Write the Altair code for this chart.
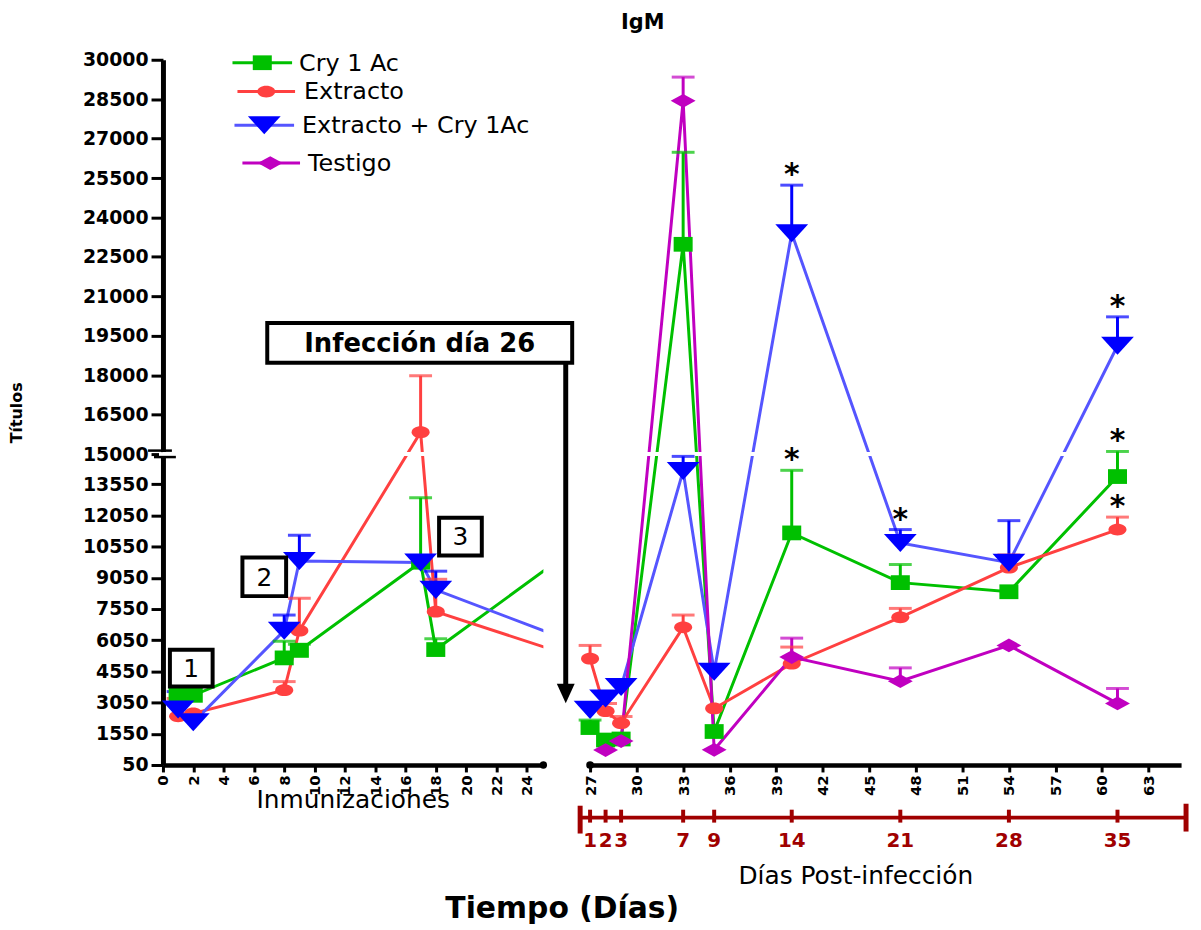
import altair as alt
import pandas as pd

FONT = "DejaVu Sans"

# ------------------------------------------------------------------ data
SERIES = ["Cry 1 Ac", "Extracto", "Extracto + Cry 1Ac", "Testigo"]

DAYS_LEFT = [1, 2, 8, 9, 17, 18]
DAY_LEFT_NEXT = 26            # next sample, clipped by the broken x axis
DAYS_RIGHT = [27, 28, 29, 33, 35, 40, 47, 54, 61]
DAYS_TESTIGO = [28, 29, 33, 35, 40, 47, 54, 61]

CRY_LEFT = [3400, 3400, 5200, 5560, 9800, 5600]
CRY_LEFT_SEM = [0, 0, 800, 300, 3100, 520]
CRY_LEFT_NEXT = 9850
CRY_RIGHT = [1850, 1250, 1300, 22980, 1660, 11210, 8820, 8380, 13920]
CRY_RIGHT_SEM = [360, 0, 0, 3500, 0, 3010, 870, 0, 1180]

EXT_LEFT = [2390, 2530, 3650, 6510, 15830, 7420]
EXT_LEFT_SEM = [860, 0, 410, 1560, 2150, 1560]
EXT_LEFT_NEXT = 5520
EXT_RIGHT = [5160, 2640, 2060, 6670, 2770, 4920, 7150, 9540, 11370]
EXT_RIGHT_SEM = [640, 370, 320, 590, 0, 800, 430, 610, 600]

MIX_LEFT = [2720, 2100, 6510, 9860, 9790, 8470]
MIX_LEFT_SEM = [860, 0, 750, 1240, 0, 900]
MIX_LEFT_NEXT = 6260
MIX_RIGHT = [2700, 3250, 3800, 14190, 4530, 23400, 10730, 9780, 19120]
MIX_RIGHT_SEM = [0, 0, 0, 700, 0, 1830, 640, 2020, 1100]

TES_RIGHT = [770, 1200, 28440, 780, 5240, 4080, 5800, 3010]
TES_RIGHT_SEM = [0, 0, 900, 0, 910, 640, 0, 720]

STARS = [("Extracto + Cry 1Ac", 40), ("Cry 1 Ac", 40), ("Extracto + Cry 1Ac", 47),
         ("Extracto + Cry 1Ac", 61), ("Cry 1 Ac", 61), ("Extracto", 61)]

INFECTION_DAY = 26
POST_INF_DAYS = [1, 2, 3, 7, 9, 14, 21, 28, 35]

Y_TICKS = [50, 1550, 3050, 4550, 6050, 7550, 9050, 10550, 12050, 13550, 15000,
           16500, 18000, 19500, 21000, 22500, 24000, 25500, 27000, 28500, 30000]
X_TICKS_LEFT = [0, 2, 4, 6, 8, 10, 12, 14, 16, 18, 20, 22, 24]
X_TICKS_RIGHT = [27, 30, 33, 36, 39, 42, 45, 48, 51, 54, 57, 60, 63]

TEXT_TITLE = "IgM"
TEXT_YTITLE = "Títulos"
TEXT_XLEFT = "Inmunizaciones"
TEXT_XRIGHT = "Días Post-infección"
TEXT_XMAIN = "Tiempo (Días)"
TEXT_INFECTION = "Infección día 26"
BOX_LABELS = ["1", "2", "3"]

# ------------------------------------------------------------------ styles
MARK_COLORS = ["#00c000", "#ff4040", "#0000ff", "#c000c0"]
LINE_COLORS = ["#00c000", "#ff4040", "#5555ff", "#c000c0"]
CAP_W = [23, 23, 34, 27]
SHAPES = [
    "M-0.58,-0.45H0.58V0.45H-0.58Z",
    "M-0.55,0A0.55,0.36,0,1,1,0.55,0A0.55,0.36,0,1,1,-0.55,0Z",
    "M-1,-0.55H1L0,0.55Z",
    "M-0.76,0L0,-0.42L0.76,0L0,0.42Z",
]
MARK_SIZE = 1089
DARKRED = "#a00000"

LEFT_W, RIGHT_W, GAP = 383, 595, 47
LOW_PX, HIGH_PX = 313, 397
H = LOW_PX + HIGH_PX
LEFT_DOMAIN = [0, 25.1]
RIGHT_DOMAIN = [27, 65.1]

# ------------------------------------------------------------------ table
rows = []


def add(series, days, values, sems, panel, marker=True):
    for d, v, s in zip(days, values, sems):
        rows.append({"series": series, "day": d, "value": v, "sem": s,
                     "panel": panel, "marker": marker})


add(SERIES[0], DAYS_LEFT, CRY_LEFT, CRY_LEFT_SEM, "left")
add(SERIES[0], [DAY_LEFT_NEXT], [CRY_LEFT_NEXT], [0], "left", False)
add(SERIES[0], DAYS_RIGHT, CRY_RIGHT, CRY_RIGHT_SEM, "right")
add(SERIES[1], DAYS_LEFT, EXT_LEFT, EXT_LEFT_SEM, "left")
add(SERIES[1], [DAY_LEFT_NEXT], [EXT_LEFT_NEXT], [0], "left", False)
add(SERIES[1], DAYS_RIGHT, EXT_RIGHT, EXT_RIGHT_SEM, "right")
add(SERIES[2], DAYS_LEFT, MIX_LEFT, MIX_LEFT_SEM, "left")
add(SERIES[2], [DAY_LEFT_NEXT], [MIX_LEFT_NEXT], [0], "left", False)
add(SERIES[2], DAYS_RIGHT, MIX_RIGHT, MIX_RIGHT_SEM, "right")
add(SERIES[3], DAYS_TESTIGO, TES_RIGHT, TES_RIGHT_SEM, "right")

df = pd.DataFrame(rows)
star_set = set(STARS)
df["star"] = [(s, d) in star_set for s, d in zip(df["series"], df["day"])]


def t_expr(f):
    return (f"datum.{f} <= 15000 ? (datum.{f} - 50) / 14950 * {LOW_PX} : "
            f"{LOW_PX} + (datum.{f} - 15000) / 15000 * {HIGH_PX}")


def t_py(v):
    return (v - 50) / 14950 * LOW_PX if v <= 15000 else LOW_PX + (v - 15000) / 15000 * HIGH_PX


INV = (f"datum.value <= {LOW_PX + 0.001} ? format(50 + datum.value / {LOW_PX} * 14950, '.0f') : "
       f"format(15000 + (datum.value - {LOW_PX}) / {HIGH_PX} * 15000, '.0f')")

Y_SCALE = alt.Scale(domain=[0, H], nice=False, zero=False)

Y_AXIS_LEFT = alt.Axis(
    values=[t_py(v) for v in Y_TICKS], labelExpr=INV, grid=False,
    labelFont=FONT, labelFontSize=19, labelFontWeight="bold", labelColor="black",
    labelPadding=3, labelOverlap=False, labelFlush=False,
    tickSize=12, tickWidth=3, tickColor="black",
    domainColor="black", domainWidth=5,
    title=TEXT_YTITLE, titleFont=FONT, titleFontSize=16, titleFontWeight="bold",
    titleColor="black", titleX=-147, titleY=H / 2, titleAlign="center",
    titleBaseline="middle", titleAngle=270,
)


def x_axis(values, title, title_x, title_y):
    return alt.Axis(
        values=values, labelAngle=270, grid=False, format="d",
        labelFont=FONT, labelFontSize=15, labelFontWeight="bold", labelColor="black",
        labelPadding=3, labelOverlap=False, labelFlush=False,
        tickSize=7, tickWidth=3, tickColor="black",
        domainColor="black", domainWidth=4.5,
        title=title, titleFont=FONT, titleFontSize=25, titleFontWeight="normal",
        titleColor="black", titleX=title_x, titleY=title_y,
        titleBaseline="alphabetic", titleAlign="center",
    )


X_AXIS = {
    "left": x_axis(X_TICKS_LEFT, TEXT_XLEFT, 191, 43),
    "right": x_axis(X_TICKS_RIGHT, TEXT_XRIGHT, 267, 119),
}
X_DOM = {"left": LEFT_DOMAIN, "right": RIGHT_DOMAIN}
WIDTH = {"left": LEFT_W, "right": RIGHT_W}

MARK_COLOR_SCALE = alt.Scale(domain=SERIES, range=MARK_COLORS)


def X(panel):
    return alt.X("day:Q", scale=alt.Scale(domain=X_DOM[panel], nice=False, zero=False),
                 axis=X_AXIS[panel])


def Y(panel, field="t"):
    return alt.Y(f"{field}:Q", scale=Y_SCALE,
                 axis=Y_AXIS_LEFT if panel == "left" else None)


def one(**kw):
    return pd.DataFrame({k: [v] for k, v in kw.items()})


def panel_layers(panel):
    b = (alt.Chart(df)
         .transform_filter(alt.datum.panel == panel)
         .transform_calculate(top="datum.value + datum.sem")
         .transform_calculate(t=t_expr("value"), tt=t_expr("top")))
    lines = b.mark_line(strokeWidth=3, clip=True).encode(
        x=X(panel), y=Y(panel),
        stroke=alt.Stroke("series:N", scale=alt.Scale(domain=SERIES, range=LINE_COLORS),
                          legend=None),
    )
    band = (alt.Chart(one(value=15000))
            .transform_calculate(t=t_expr("value"))
            .mark_rule(color="white", strokeWidth=4)
            .encode(y=Y(panel), x=alt.value(0), x2=alt.value(WIDTH[panel])))
    errs = b.transform_filter("datum.sem > 0")
    err_rule = errs.mark_rule(strokeWidth=3).encode(
        x=X(panel), y=Y(panel), y2="tt:Q",
        color=alt.Color("series:N", scale=MARK_COLOR_SCALE, legend=None))
    err_cap = errs.mark_tick(thickness=3, orient="horizontal").encode(
        x=X(panel), y=Y(panel, "tt"),
        color=alt.Color("series:N", scale=MARK_COLOR_SCALE, legend=None),
        size=alt.Size("series:N", scale=alt.Scale(domain=SERIES, range=CAP_W), legend=None))
    points = b.transform_filter("datum.marker").mark_point(
        filled=True, opacity=1, strokeWidth=0).encode(
        x=X(panel), y=Y(panel),
        fill=alt.Fill("series:N", scale=MARK_COLOR_SCALE, legend=None),
        shape=alt.Shape("series:N", scale=alt.Scale(domain=SERIES, range=SHAPES), legend=None),
        size=alt.value(MARK_SIZE))
    stars = b.transform_filter("datum.star").mark_text(
        text="*", font=FONT, fontSize=30, fontWeight="bold", dy=-10, color="black"
    ).encode(x=X(panel), y=Y(panel, "tt"))
    return [lines, band, err_rule, err_cap, points, stars]


# ------------------------------------------------------------------ left panel
left_layers = panel_layers("left")

# numbered boxes (immunizations)
BOX_POS = [(7, 50, 594, 631), (80, 124, 501, 540), (278, 321, 461, 499)]
for lab, (x0, x1, y0, y1) in zip(BOX_LABELS, BOX_POS):
    d1 = one(label=lab)
    left_layers.append(alt.Chart(d1).mark_rect(fill="white", stroke="black", strokeWidth=4)
                       .encode(x=alt.value(x0), x2=alt.value(x1), y=alt.value(y0), y2=alt.value(y1)))
    left_layers.append(alt.Chart(d1).mark_text(font=FONT, fontSize=25, color="black",
                                               align="center", baseline="middle")
                       .encode(x=alt.value((x0 + x1) / 2), y=alt.value((y0 + y1) / 2 + 1),
                               text="label:N"))

# infection annotation with arrow
d_inf = one(label=TEXT_INFECTION)
left_layers += [
    alt.Chart(d_inf).mark_rule(color="black", strokeWidth=5)
    .encode(x=alt.value(405.5), y=alt.value(305), y2=alt.value(630)),
    alt.Chart(d_inf).mark_point(shape="M-1,-1.1H1L0,1.1Z", filled=True, color="black",
                                opacity=1, size=324, strokeWidth=0)
    .encode(x=alt.value(405.5), y=alt.value(638)),
    alt.Chart(d_inf).mark_rect(fill="white", stroke="black", strokeWidth=4)
    .encode(x=alt.value(105), x2=alt.value(412), y=alt.value(265), y2=alt.value(305)),
    alt.Chart(d_inf).mark_text(font=FONT, fontSize=26, fontWeight="bold", color="black",
                               align="center", baseline="middle")
    .encode(x=alt.value(258.5), y=alt.value(286), text="label:N"),
]

# legend
LEG_Y = [3, 32, 66, 104]
LEG_LINE_X = [(70, 130), (75, 133), (72, 132), (80, 138)]
LEG_MARK_X = [100, 104, 102, 108]
LEG_TEXT_X = [137, 142, 140, 146]
for i, s in enumerate(SERIES):
    d1 = one(series=s)
    left_layers += [
        alt.Chart(d1).mark_rule(strokeWidth=3, color=LINE_COLORS[i])
        .encode(x=alt.value(LEG_LINE_X[i][0]), x2=alt.value(LEG_LINE_X[i][1]),
                y=alt.value(LEG_Y[i])),
        alt.Chart(d1).mark_point(shape=SHAPES[i], filled=True, color=MARK_COLORS[i],
                                 opacity=1, size=MARK_SIZE, strokeWidth=0)
        .encode(x=alt.value(LEG_MARK_X[i]), y=alt.value(LEG_Y[i])),
        alt.Chart(d1).mark_text(font=FONT, fontSize=24, color="black", align="left",
                                baseline="middle")
        .encode(x=alt.value(LEG_TEXT_X[i]), y=alt.value(LEG_Y[i] + 1), text="series:N"),
    ]

# y-axis break symbol and axis end dot
brk_y = H - LOW_PX
d_brk = one(label="break")
left_layers += [
    alt.Chart(d_brk).mark_rect(color="white")
    .encode(x=alt.value(-4), x2=alt.value(4), y=alt.value(brk_y - 2), y2=alt.value(brk_y + 2)),
    alt.Chart(d_brk).mark_rule(color="black", strokeWidth=2.5)
    .encode(x=alt.value(-15), x2=alt.value(9), y=alt.value(brk_y - 3.5)),
    alt.Chart(d_brk).mark_rule(color="black", strokeWidth=2.5)
    .encode(x=alt.value(-9), x2=alt.value(13), y=alt.value(brk_y + 3)),
    alt.Chart(d_brk).mark_point(shape="circle", filled=True, color="black", opacity=1,
                                size=55, strokeWidth=0)
    .encode(x=alt.value(LEFT_W), y=alt.value(H)),
]

# chart title and main x title
left_layers += [
    alt.Chart(one(label=TEXT_TITLE)).mark_text(font=FONT, fontSize=21, fontWeight="bold",
                                               color="black", align="center",
                                               baseline="top")
    .encode(x=alt.value(483), y=alt.value(-48), text="label:N"),
    alt.Chart(one(label=TEXT_XMAIN)).mark_text(font=FONT, fontSize=30, fontWeight="bold",
                                               color="black", align="center",
                                               baseline="alphabetic")
    .encode(x=alt.value(402), y=alt.value(864), text="label:N"),
]

left = alt.layer(*left_layers).properties(width=LEFT_W, height=H)

# ------------------------------------------------------------------ right panel
right_layers = panel_layers("right")

tl = (alt.Chart(pd.DataFrame({"d": POST_INF_DAYS}))
      .transform_calculate(day=f"{INFECTION_DAY} + datum.d"))
d_tl = one(label="timeline")
right_layers += [
    alt.Chart(d_tl).mark_rule(color=DARKRED, strokeWidth=4)
    .encode(x=alt.value(-10), x2=alt.value(600), y=alt.value(763)),
    alt.Chart(d_tl).mark_rule(color=DARKRED, strokeWidth=5)
    .encode(x=alt.value(-10), y=alt.value(751), y2=alt.value(779)),
    alt.Chart(d_tl).mark_rule(color=DARKRED, strokeWidth=5)
    .encode(x=alt.value(600), y=alt.value(749), y2=alt.value(777)),
    tl.mark_rule(color=DARKRED, strokeWidth=4)
    .encode(x=X("right"), y=alt.value(755), y2=alt.value(768)),
    tl.mark_text(font=FONT, fontSize=20, fontWeight="bold", color=DARKRED,
                 align="center", baseline="middle")
    .encode(x=X("right"), y=alt.value(787), text="d:Q"),
    alt.Chart(d_tl).mark_point(shape="circle", filled=True, color="black", opacity=1,
                               size=60, strokeWidth=0)
    .encode(x=alt.value(0), y=alt.value(H)),
]

right = alt.layer(*right_layers).properties(width=RIGHT_W, height=H)

chart = (
    alt.hconcat(left, right, spacing=GAP, bounds="flush")
    .resolve_scale(x="independent")
    .properties(padding={"left": 1, "top": 1, "right": 4, "bottom": 0})
    .configure_view(stroke=None)
)

chart.save("out.html", embed_options={"renderer": "svg", "actions": False})
